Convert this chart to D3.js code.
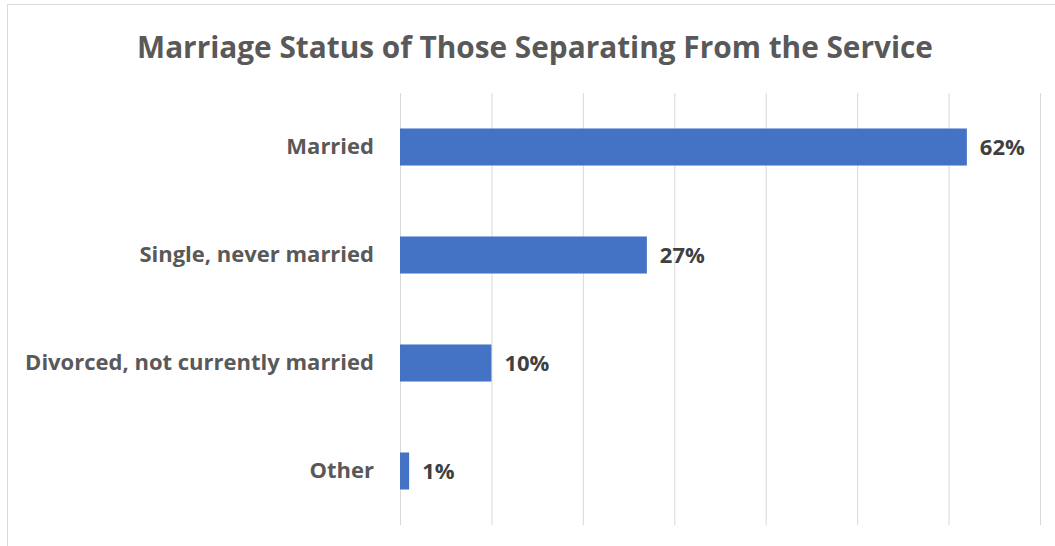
<!DOCTYPE html>
<html>
<head>
<meta charset="utf-8">
<script src="https://cdn.jsdelivr.net/npm/d3@7"></script>
<style>
  html, body { margin: 0; padding: 0; background: #fff; }
  svg { display: block; }
</style>
</head>
<body>
<svg id="chart" width="1055" height="546"></svg>
<script>
// Marriage status breakdown (percent of those separating)
const categories = ["Married", "Single, never married", "Divorced, not currently married", "Other"];
const values = [62, 27, 10, 1];
const tickValues = [0, 10, 20, 30, 40, 50, 60, 70];
const titleText = "Marriage Status of Those Separating From the Service";

const W = 1055, H = 546;
const margin = { top: 93, right: 15, bottom: 21, left: 400 };
const innerW = 1040 - margin.left;
const innerH = H - margin.top - margin.bottom;

const svg = d3.select("#chart");
const font = "'Open Sans', 'DejaVu Sans', sans-serif";

// chart frame
svg.append("rect")
  .attr("x", 7.5).attr("y", 4.5)
  .attr("width", W + 10).attr("height", H + 10)
  .attr("fill", "#fff")
  .attr("stroke", "#d9d9d9").attr("stroke-width", 1);

const x = d3.scaleLinear().domain([0, 70]).range([0, innerW]);
const y = d3.scaleBand().domain(categories).range([0, innerH])
  .paddingInner(0.657).paddingOuter(0.3285);

const g = svg.append("g").attr("transform", `translate(${margin.left},${margin.top})`);

// vertical gridlines
g.append("g")
  .call(d3.axisBottom(x).tickValues(tickValues).tickSize(innerH).tickFormat(""))
  .call(a => a.select(".domain").remove())
  .call(a => a.selectAll(".tick line").attr("stroke", "#d9d9d9").attr("stroke-width", 1));

// bars
g.selectAll("rect.bar")
  .data(categories)
  .join("rect")
  .attr("class", "bar")
  .attr("x", x(0))
  .attr("y", d => y(d))
  .attr("width", (d, i) => x(values[i]) - x(0))
  .attr("height", y.bandwidth())
  .attr("fill", "#4472c4");

// category labels
g.append("g")
  .call(d3.axisLeft(y).tickSize(0).tickPadding(26))
  .call(a => a.select(".domain").remove())
  .call(a => a.selectAll(".tick text")
    .attr("font-family", font)
    .attr("font-size", "22px")
    .attr("font-weight", "bold")
    .attr("fill", "#595959"));

// value labels
g.selectAll("text.val")
  .data(categories)
  .join("text")
  .attr("class", "val")
  .attr("x", (d, i) => x(values[i]) + 13)
  .attr("y", d => y(d) + y.bandwidth() / 2)
  .attr("dy", "0.35em")
  .attr("font-family", font)
  .attr("font-size", "22px")
  .attr("font-weight", "bold")
  .attr("fill", "#404040")
  .text((d, i) => values[i] + "%");

// title
const title = svg.append("text")
  .attr("x", 535)
  .attr("y", 58)
  .attr("text-anchor", "middle")
  .attr("font-family", font)
  .attr("font-size", "27px")
  .attr("font-weight", "bold")
  .attr("fill", "#595959")
  .text(titleText);
const tw = title.node().getComputedTextLength();
title.attr("font-size", (27 * 796 / tw).toFixed(2) + "px");
</script>
</body>
</html>
